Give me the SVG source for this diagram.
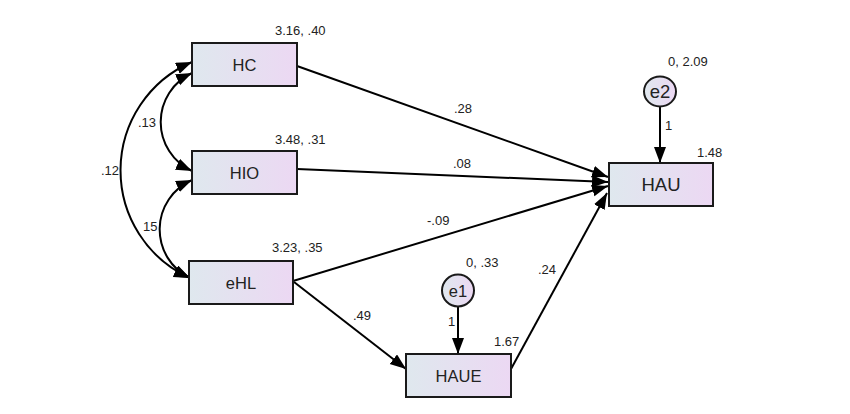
<svg xmlns="http://www.w3.org/2000/svg" width="850" height="414" viewBox="0 0 850 414">
<defs>
<linearGradient id="g" x1="0" y1="0" x2="1" y2="0">
<stop offset="0" stop-color="#dfe8ee"/>
<stop offset="1" stop-color="#ecd8f3"/>
</linearGradient>
<marker id="ah" markerUnits="userSpaceOnUse" markerWidth="18" markerHeight="14" refX="16" refY="6" orient="auto-start-reverse">
<path d="M0,0 L16,6 L0,12 z" fill="#000"/>
</marker>
<style>
.box{fill:url(#g);stroke:#1a1a1a;stroke-width:2}
.lbl{font-family:"Liberation Sans",Arial,sans-serif;font-size:16.5px;fill:#222;text-anchor:middle}
.big{font-size:18.5px}
.num{font-family:"Liberation Sans",Arial,sans-serif;font-size:13px;fill:#222}
.ln{fill:none;stroke:#000;stroke-width:2}
</style>
</defs>
<rect width="850" height="414" fill="#fff"/>
<g id="connectors">
<path class="ln" d="M192,62 A118,118 0 0 0 190,278" marker-start="url(#ah)" marker-end="url(#ah)"/>
<path class="ln" d="M192,73 A54,54 0 0 0 192,171" marker-start="url(#ah)" marker-end="url(#ah)"/>
<path class="ln" d="M192,180 A54,54 0 0 0 190,278" marker-start="url(#ah)" marker-end="url(#ah)"/>
<line class="ln" x1="297" y1="66" x2="608" y2="177" marker-end="url(#ah)"/>
<line class="ln" x1="297" y1="169" x2="608" y2="182" marker-end="url(#ah)"/>
<line class="ln" x1="293" y1="281" x2="608" y2="186" marker-end="url(#ah)"/>
<line class="ln" x1="511" y1="369" x2="607" y2="193" marker-end="url(#ah)"/>
<line class="ln" x1="294" y1="282" x2="406" y2="369" marker-end="url(#ah)"/>
<line class="ln" x1="660" y1="107" x2="660" y2="163" marker-end="url(#ah)"/>
<line class="ln" x1="458" y1="307" x2="458" y2="354" marker-end="url(#ah)"/>
<text class="num" x="138" y="127">.13</text>
<text class="num" x="101" y="175">.12</text>
<text class="num" x="143" y="231">15</text>
<text class="num" x="454" y="113">.28</text>
<text class="num" x="453" y="168">.08</text>
<text class="num" x="427" y="225">-.09</text>
<text class="num" x="353" y="320">.49</text>
<text class="num" x="538" y="274">.24</text>
<text class="num" x="665" y="130">1</text>
<text class="num" x="448" y="326">1</text>
</g>
<g id="HC">
<rect class="box" x="192" y="43" width="105" height="43"/>
<text class="lbl" x="244.5" y="70.5">HC</text>
<text class="num" x="275" y="35">3.16, .40</text>
</g>
<g id="HIO">
<rect class="box" x="192" y="151" width="105" height="43"/>
<text class="lbl" x="244.5" y="178.5">HIO</text>
<text class="num" x="275" y="144">3.48, .31</text>
</g>
<g id="eHL">
<rect class="box" x="189" y="261" width="104" height="43"/>
<text class="lbl" x="241" y="288.5">eHL</text>
<text class="num" x="272" y="252">3.23, .35</text>
</g>
<g id="HAU">
<rect class="box" x="609" y="163" width="104" height="43"/>
<text class="lbl big" x="661" y="191">HAU</text>
<text class="num" x="697" y="157">1.48</text>
</g>
<g id="HAUE">
<rect class="box" x="406" y="354" width="105" height="43"/>
<text class="lbl" x="458.5" y="381.5">HAUE</text>
<text class="num" x="494" y="346">1.67</text>
</g>
<g id="e2">
<ellipse class="box" cx="660" cy="91.5" rx="16" ry="15"/>
<text class="lbl big" x="660" y="98">e2</text>
<text class="num" x="668" y="66">0, 2.09</text>
</g>
<g id="e1">
<circle class="box" cx="458" cy="290.5" r="16"/>
<text class="lbl" x="458" y="296.5">e1</text>
<text class="num" x="466" y="267">0, .33</text>
</g>
</svg>
